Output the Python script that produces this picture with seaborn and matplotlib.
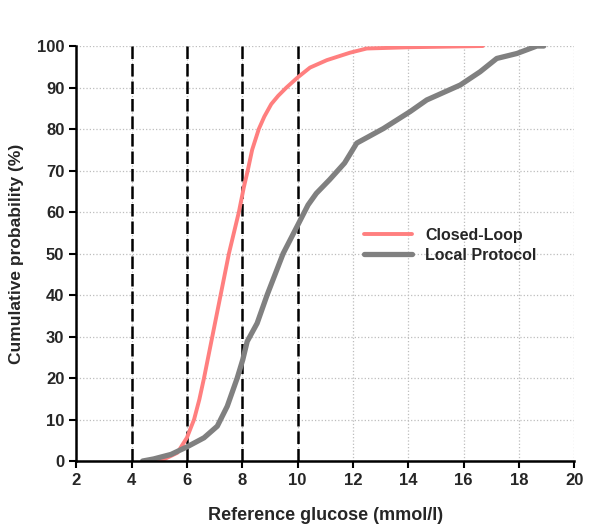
import matplotlib
matplotlib.use("Agg")
import matplotlib.pyplot as plt
import seaborn as sns
import pandas as pd

# values (glucose mmol/l, cumulative %)
cl_glucose = [4.6, 5.2, 5.66, 6.0, 6.26, 6.45, 6.62, 6.92, 7.22, 7.52, 7.88, 8.06, 8.2, 8.36, 8.6, 8.8,
              9.05, 9.3, 9.6, 10.0, 10.45, 11.06, 11.9, 12.5, 14.0, 16.7]
cl_cum = [0.0, 0.5, 2.0, 5.6, 10.0, 14.8, 20.0, 30.0, 40.0, 50.0, 60.0, 66.0, 70.0, 75.0, 80.0, 83.0,
          86.0, 88.0, 90.0, 92.4, 94.8, 96.6, 98.4, 99.4, 99.7, 100.0]

lp_glucose = [4.4, 4.8, 5.43, 6.0, 6.62, 7.1, 7.46, 7.82, 8.02, 8.18, 8.54, 8.9, 9.48, 10.02, 10.38,
              10.68, 11.16, 11.7, 12.14, 13.1, 14.07, 14.67, 15.88, 16.6, 17.2, 17.93, 18.65, 18.9]
lp_cum = [0.0, 0.5, 1.6, 3.4, 5.6, 8.4, 13.2, 20.0, 24.4, 28.8, 33.2, 40.0, 50.0, 57.0, 61.7,
          64.5, 67.8, 71.8, 76.6, 80.1, 84.2, 87.0, 90.6, 93.8, 97.0, 98.2, 100.0, 100.0]

cutoffs = [4, 6, 8, 10]
groups = ["Closed-Loop", "Local Protocol"]
colors = {"Closed-Loop": "#FF7F7F", "Local Protocol": "#808080"}

df = pd.concat([
    pd.DataFrame({"glucose": cl_glucose, "cum": cl_cum, "group": groups[0]}),
    pd.DataFrame({"glucose": lp_glucose, "cum": lp_cum, "group": groups[1]}),
])

sns.set_style("white")
plt.rcParams["font.family"] = ["Liberation Sans", "DejaVu Sans"]
plt.rcParams["font.weight"] = "bold"

fig = plt.figure(figsize=(6.0, 5.29), dpi=100)
ax = fig.add_axes([0.127, 0.1285, 0.83, 0.7845])

for xc in cutoffs:
    ax.axvline(xc, color="black", lw=1.8, ls=(0, (5, 2)), zorder=1)

sns.lineplot(data=df, x="glucose", y="cum", hue="group", palette=colors, ax=ax,
             estimator=None, sort=False, zorder=3)
for line, lw in zip(ax.lines[len(cutoffs):], [2.8, 3.8]):
    line.set_linewidth(lw)
    line.set_solid_joinstyle("round")

ax.set_xlim(2, 20)
ax.set_ylim(0, 100)
ax.set_xticks(range(2, 21, 2))
ax.set_yticks(range(0, 101, 10))
ax.grid(True, color="#bdbdbd", ls=":", lw=0.9)
ax.set_axisbelow(True)
for s in ["top", "right"]:
    ax.spines[s].set_visible(False)
for s in ["left", "bottom"]:
    ax.spines[s].set_color("black")
    ax.spines[s].set_linewidth(1.8)
    ax.spines[s].set_zorder(4)
ax.tick_params(axis="both", direction="out", length=5, width=1.5, color="black",
               labelsize=12, bottom=True, left=True)
for lab in ax.get_xticklabels() + ax.get_yticklabels():
    lab.set_fontweight("bold")

ax.set_xlabel("Reference glucose (mmol/l)", fontsize=13, fontweight="bold", labelpad=14)
ax.set_ylabel("Cumulative probability (%)", fontsize=12.5, fontweight="bold", labelpad=9)

leg = ax.legend(loc="center left", bbox_to_anchor=(0.55, 0.52), frameon=False,
                handlelength=3.0, fontsize=11.5, labelspacing=0.3)
for h, lw in zip(leg.get_lines(), [2.8, 3.8]):
    h.set_linewidth(lw)
for t in leg.get_texts():
    t.set_fontweight("bold")

plt.savefig("out.png", dpi=100)
